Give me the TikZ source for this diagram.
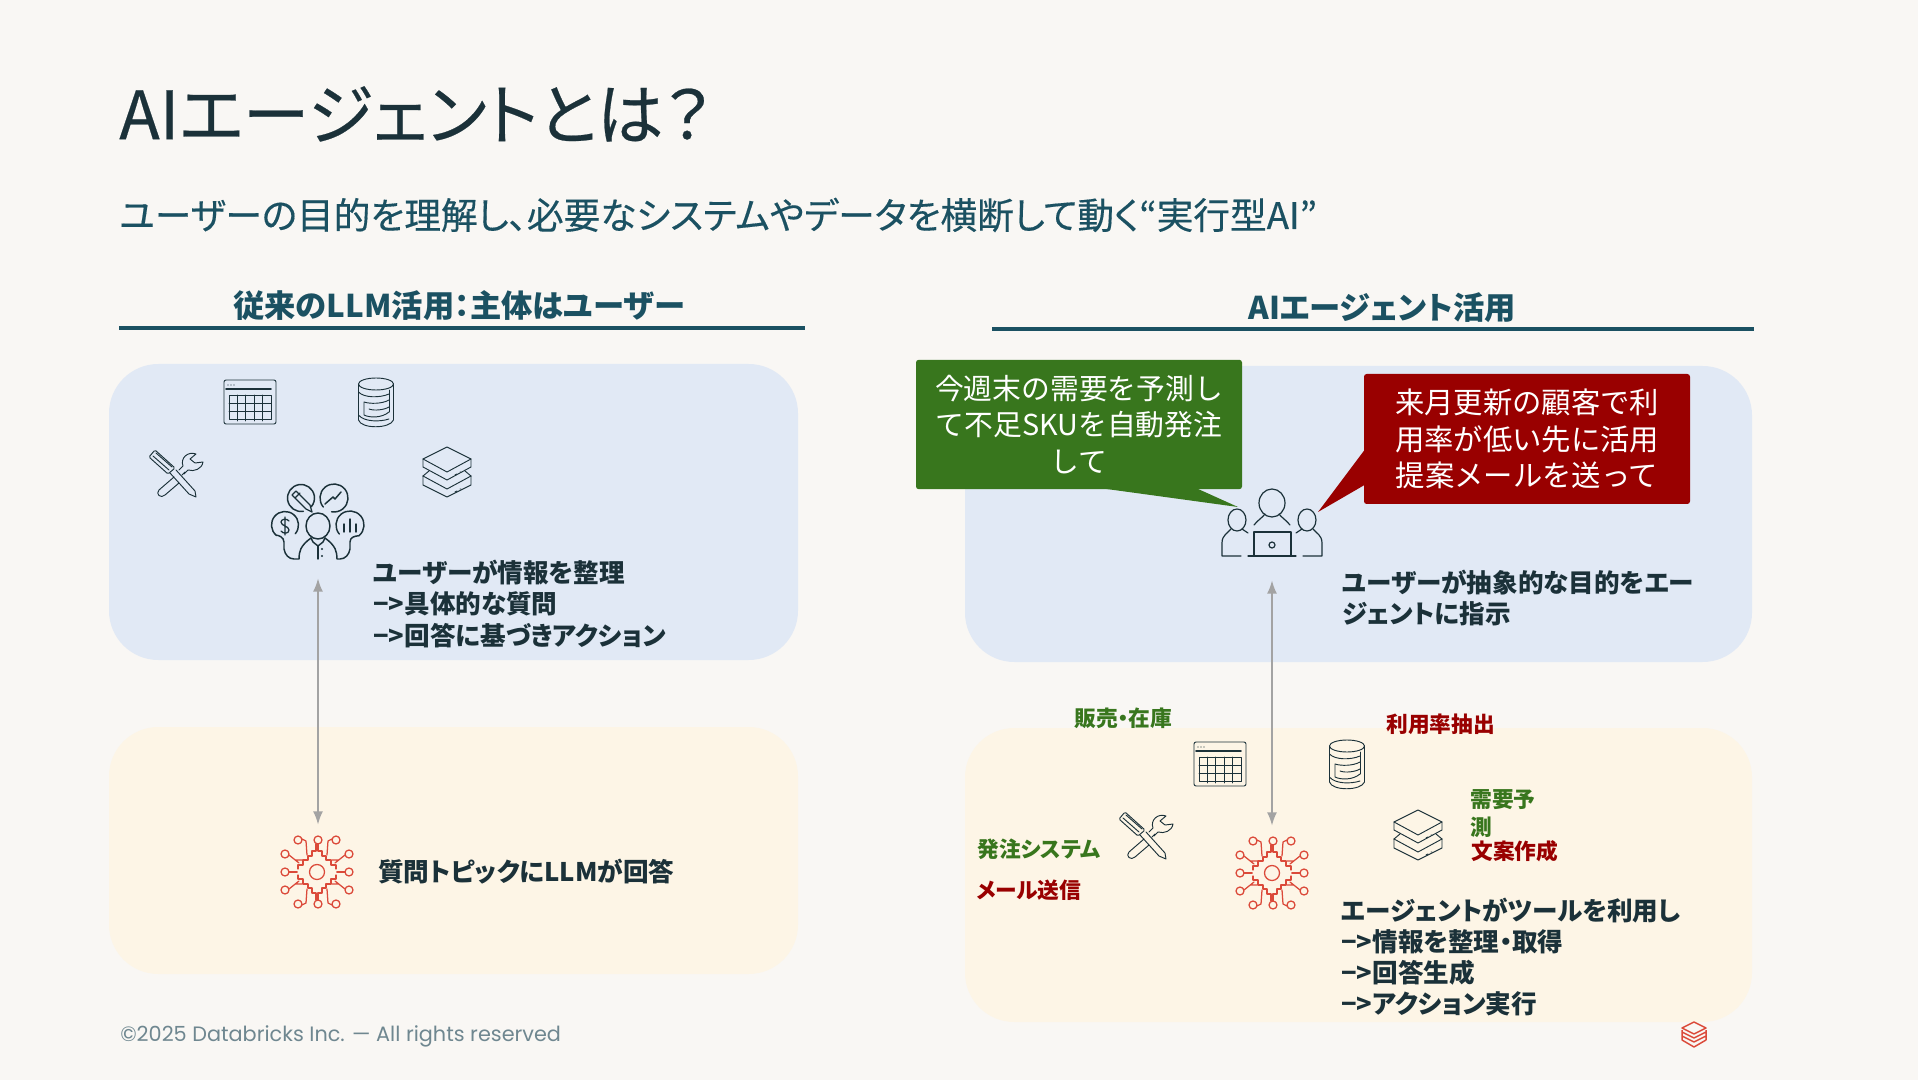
\documentclass[tikz,border=0pt]{standalone}
\usepackage{fontspec}
\setmainfont[RawFeature=+palt]{Noto Sans CJK JP}
\newfontfamily\plainjp{Noto Sans CJK JP}
\newfontfamily\medjp[RawFeature=+palt,FakeBold=0.35]{Noto Sans CJK JP}
\newfontfamily\footfont{Poppins}
\usetikzlibrary{arrows.meta}
\definecolor{bgc}{HTML}{F9F7F4}
\definecolor{bluebox}{HTML}{E1E9F5}
\definecolor{creambox}{HTML}{FDF5E6}
\definecolor{navy}{HTML}{1B3139}
\definecolor{teal}{HTML}{1B5162}
\definecolor{greenc}{HTML}{38761D}
\definecolor{redc}{HTML}{990000}
\definecolor{lava}{HTML}{DB4A3A}
\definecolor{greyarrow}{HTML}{A3A3A3}
\definecolor{footc}{HTML}{6F8790}
\newcommand{\fs}[1]{\fontsize{#1pt}{#1pt}\selectfont}
\tikzset{
 x=0.75pt,y=-0.75pt,
 panel/.style={rounded corners=37pt,inner sep=0},
 lbl/.style={anchor=west,align=left,inner sep=0,text=navy,font=\fs{19.2}\bfseries,execute at begin node={\baselineskip=23.4pt}},
 small/.style={anchor=west,align=left,inner sep=0,font=\fs{16.3}\bfseries},
 head/.style={inner sep=0,text=teal,font=\fs{23.5}\bfseries},
 rulex/.style={draw=teal,line width=3pt},
 bubble/.style={inner sep=0,text=white,align=center,rounded corners=2pt,execute at begin node={\baselineskip=27.4pt}},
 iconline/.style={draw=navy,line width=0.7pt,line cap=round,line join=round},
 hook/.style={inner sep=0,minimum width=54pt},
 link/.style={draw=greyarrow,line width=1.5pt,{Latex[length=10pt,width=7.5pt]}-{Latex[length=10pt,width=7.5pt]}},
 pics/tablewin/.style={code={
  \draw[iconline,rounded corners=1.5pt] (-26,-22) rectangle (26,22);
  \draw[iconline,line width=1.2pt] (-24,-13) -- (21,-13);
  \foreach \q in {-22,-19,-16}{\fill[navy] (\q,-17) circle (0.7);}
  \draw[iconline] (-21,-7) rectangle (21,17);
  \foreach \q in {-13,-4.5,4,12.5}{\draw[iconline] (\q,-7) -- (\q,19);}
  \draw[iconline] (-21,1) -- (21,1) (-21,9) -- (21,9);
 }},
 pics/dbstack/.style={code={
  \draw[iconline] (0,-18) ellipse (17.5 and 6);
  \draw[iconline] (-17.5,-18) -- (-17.5,18) .. controls (-15,27) and (14,27) .. (17.5,18) -- (17.5,-18);
  \draw[iconline] (-17.5,-10) .. controls (-12,-4) and (4,-4) .. (13,-8);
  \draw[iconline] (13,-12) -- (13,10);
  \draw[iconline] (13,-2) .. controls (6,2) and (-6,2) .. (-12,0) -- (-12,13) .. controls (-6,16) and (6,16) .. (13,10);
  \draw[iconline] (-7,7) .. controls (-2,9) and (8,8) .. (13,5);
  \draw[iconline] (-17.5,13) .. controls (-12,20) and (4,20) .. (13,17);
 }},
 pics/toolset/.style={code={
  \draw[iconline,rounded corners=1pt] (-21,-23) -- (-27,-16) -- (-8,1) -- (-1,-5) -- cycle;
  \draw[iconline] (-23,-17) -- (-7,-3) (-20,-20) -- (-4,-6);
  \draw[iconline] (-6,0) -- (13,21) -- (20,24) -- (19,18) -- (0,-3);
  \draw[iconline] (-2,4) -- (-17,17) .. controls (-21,21) and (-15,26) .. (-11,22) -- (3,10);
  \draw[iconline] (6,2) -- (9,-1);
  \draw[iconline] (3,-3) -- (7,-7) .. controls (4,-15) and (12,-22) .. (20,-19) -- (14,-14) -- (19,-10) -- (27,-11) .. controls (26,-4) and (18,-1) .. (12,-3) -- (8,1);
 }},
 pics/layerset/.style={code={
  \draw[iconline] (0,-25) -- (24,-13) -- (24,-5) -- (0,8) -- (-24,-5) -- (-24,-13) -- cycle;
  \draw[iconline] (-24,-13) -- (0,0) -- (24,-13);
  \draw[iconline] (-24,4) -- (-24,13) -- (0,25) -- (24,13) -- (24,4);
  \draw[iconline] (-24,4) -- (0,17) -- (24,4);
  \draw[iconline] (-18,-1) -- (-24,4) (18,-1) -- (24,4);
  \draw[iconline] (8,3) -- (10,2) (13,0) -- (14,0) (8,20) -- (10,19) (13,17) -- (14,17);
 }},
 pics/analyst/.style={code={
  \tikzset{anl/.style={draw=navy,line width=1.1pt,line cap=round,line join=round}}
  \draw[anl] (0,4) ellipse (12 and 13);
  % upper bubbles
  \draw[anl] (-17,-24) ++(80:13.5) arc (80:400:13.5);
  \draw[anl] (16,-24) ++(140:14) arc (140:460:14);
  % side bubbles with arms
  \draw[anl] (-33,3) ++(40:13.5) arc (40:-230:13.5) .. controls (-40,13) and (-34,15) .. (-34,20) -- (-34,27) .. controls (-33,33) and (-29,37) .. (-24,37) -- (-19,37) .. controls (-19,30) and (-18,24) .. (-7,16);
  \draw[anl] (32,3) ++(140:14) arc (140:410:14) .. controls (37,14) and (32,15) .. (32,20) -- (32,27) .. controls (31,33) and (27,37) .. (22,37) -- (19,37) .. controls (19,30) and (18,24) .. (7,16);
  % collar and tie
  \draw[anl] (-7,16) -- (-5,20) -- (0,24) -- (5,20) -- (7,16);
  \draw[anl] (0,24) -- (0,37);
  \fill[navy] (4,27) circle (1.2) (4,34) circle (1.2);
  % pencil
  \draw[iconline,line width=0.95pt] (-22,-31) -- (-26,-27) -- (-12,-13) -- (-6,-10) -- (-8,-17) -- cycle (-23,-24) -- (-18,-29);
  % trend
  \draw[anl] (7,-18) -- (15,-25) -- (17,-23) -- (23,-30);
  % dollar
  \draw[iconline,line width=0.95pt] (-29,-1) .. controls (-31,-4) and (-37,-3) .. (-37,0) .. controls (-37,4) and (-29,4) .. (-29,8) .. controls (-29,12) and (-35,12) .. (-37,9) (-33,-5) -- (-33,13);
  % bars
  \draw[anl] (26,2) -- (26,10) (32,-3) -- (32,10) (38,2) -- (38,10);
 }},
 pics/usergroup/.style={code={
  \draw[iconline,line width=0.9pt] (0,-20) ellipse (13 and 14);
  \draw[iconline,line width=0.9pt] (-18,2) .. controls (-14,-3) and (-9,-6) .. (-7,-9);
  \draw[iconline,line width=0.9pt] (18,2) .. controls (14,-3) and (9,-6) .. (7,-9);
  \draw[iconline,line width=0.9pt] (-18,33) -- (-18,9) -- (19,9) -- (19,33);
  \draw[iconline,line width=0.9pt] (-24,33) -- (24,33);
  \draw[iconline,line width=0.9pt] (0,22) circle (3);
  \foreach \sg in {1,-1}{\begin{scope}[xscale=\sg]
   \draw[iconline,line width=0.9pt] (35,-3) ellipse (9 and 11);
   \draw[iconline,line width=0.9pt] (41,6) .. controls (44,10) and (50,12) .. (50,20) -- (50,33) -- (31,33);
   \draw[iconline,line width=0.9pt] (30,6) -- (24,10);
  \end{scope}}
 }},
 pics/gearchip/.style={code={
  \tikzset{gearline/.style={draw=lava,line width=0.95pt,line cap=round,line join=round}}
  \draw[gearline] (0,0) circle (7.5);
  \foreach \p in {(1,-32),(-32,0),(32,0),(1,32)}{\draw[gearline] \p circle (4);}
  \foreach \sx/\sy in {1/1,-1/1,1/-1,-1/-1}{\begin{scope}[xscale=\sx,yscale=\sy]
   \draw[gearline] (19,-32) circle (4) (32,-18) circle (4);
   \draw[gearline] (15,-33) -- (11,-31) -- (10,-17);
   \draw[gearline] (28,-17) -- (18,-9) (22,-12) -- (15,-12);
   \draw[gearline] (1,-28) -- (1,-21) -- (5,-21) -- (5,-16) -- (9,-16) -- (9,-12) -- (14,-12) -- (14,-7) -- (19,-7) -- (19,-3);
   \draw[gearline] (28,0) -- (20,0);
  \end{scope}}
 }},
 pics/logomark/.style={code={
  \draw[draw=lava,line width=1.1pt,line join=round,fill=none] (0,-12) -- (12,-6) -- (0,0) -- (-12,-6) -- cycle;
  \draw[draw=lava,line width=1.1pt,line join=round] (-12,-2) -- (0,4) -- (12,-2) (-12,2) -- (0,8) -- (12,2) (-12,6) -- (0,13) -- (12,6) (-12,-4) -- (-12,6) (12,-4) -- (12,6);
 }},
}
\begin{document}
\begin{tikzpicture}
\useasboundingbox (0,0) rectangle (1918,1080);
\fill[bgc] (0,0) rectangle (1918,1080);

% panels
\fill[bluebox,panel] (109,364) rectangle (798,660);
\fill[creambox,panel] (109,727) rectangle (798,974);
\fill[bluebox,panel] (965,366) rectangle (1752,662);
\fill[creambox,panel] (965,728) rectangle (1752,1022);

% titles
\node[anchor=west,inner sep=0,text=navy,font=\medjp\fs{50}] (title) at (119,114) {AIエージェントとは？};
\node[anchor=west,inner sep=0,text=teal,font=\medjp\fs{27.5}] (subtitle) at (119,215) {ユーザーの目的を理解し、必要なシステムやデータを横断して動く“実行型AI”};
\node[head] (headL) at (459,306) {従来のLLM活用：主体はユーザー};
\node[head] (headR) at (1382,308) {AIエージェント活用};
\draw[rulex] (119,328) -- (805,328);
\draw[rulex] (992,329) -- (1754,329);

% left icons
\pic at (250,402) {tablewin};
\pic at (376,402) {dbstack};
\pic at (176,473) {toolset};
\pic at (447,472) {layerset};
\pic at (318,522) {analyst};
\pic at (317,872) {gearchip};
\node[hook,minimum height=84pt] (analystL) at (318,522) {};
\node[hook,minimum height=70.5pt] (gearL) at (318,872) {};
\draw[link] (analystL.south) -- (gearL.north);

% left labels
\node[lbl] (infoL) at (373,604) {ユーザーが情報を整理\\−>具体的な質問\\−>回答に基づきアクション};
\node[lbl] (llmL) at (378,872) {質問トピックにLLMが回答};

% right icons
\pic at (1220,764) {tablewin};
\pic at (1347,764) {dbstack};
\pic at (1146,835) {toolset};
\pic at (1418,835) {layerset};
\pic at (1272,523) {usergroup};
\pic at (1272,873) {gearchip};
\node[hook,minimum height=85.5pt] (usersR) at (1272,523) {};
\node[hook,minimum height=70.5pt] (gearR) at (1272,873) {};
\draw[link] (usersR.south) -- (gearR.north);

% callouts
\fill[greenc] (1103,488.5) -- (1197,488.5) -- (1238,507) -- cycle;
\node[bubble,fill=greenc,minimum width=244.5pt,minimum height=97pt,font=\plainjp\fs{21.6}] (green) at (1079,424.5) {今週末の需要を予測し\\て不足SKUを自動発注\\して};
\fill[redc] (1364.5,450) -- (1364.5,485) -- (1318,512) -- cycle;
\node[bubble,fill=redc,minimum width=244.5pt,minimum height=97.5pt,font=\plainjp\fs{22}] (red) at (1527,439) {来月更新の顧客で利\\用率が低い先に活用\\提案メールを送って};

% right labels
\node[lbl] (goalR) at (1342,598) {ユーザーが抽象的な目的をエー\\ジェントに指示};
\node[lbl] (agentR) at (1341,957) {エージェントがツールを利用し\\−>情報を整理・取得\\−>回答生成\\−>アクション実行};

\node[small,text=greenc] (s1) at (1074,718) {販売・在庫};
\node[small,text=redc] (s2) at (1386,724) {利用率抽出};
\node[small,text=greenc] (s3) at (1470,800) {需要予};
\node[small,text=greenc] (s4) at (1470,827) {測};
\node[small,text=redc] (s5) at (1471,851) {文案作成};
\node[small,text=greenc] (s6) at (977,849) {発注システム};
\node[small,text=redc] (s7) at (976,890) {メール送信};

% footer
\node[anchor=west,inner sep=0,text=footc,font=\footfont\fs{15.6}] (foot) at (120,1036) {©2025 Databricks Inc. — All rights reserved};
\pic at (1694,1034) {logomark};
\end{tikzpicture}
\end{document}
